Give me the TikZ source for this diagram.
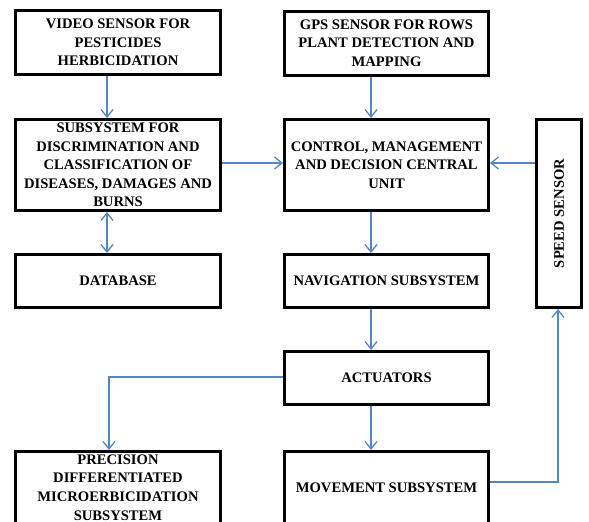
\documentclass[tikz,border=0pt]{standalone}
\usepackage{fontspec}
\setmainfont{Liberation Serif}
\usetikzlibrary{arrows.meta}
\definecolor{flowblue}{RGB}{84,134,194}
\tikzset{
  boxfont/.style={font=\bfseries\fontsize{14.6}{18.6}\selectfont},
  box/.style={draw=black, line width=3pt, fill=white, align=center, inner sep=2pt, boxfont},
  flow/.style={draw=flowblue, line width=1.4pt},
  tip/.tip={Straight Barb[length=7.5pt,width=12pt,line width=1.3pt]},
  arr/.style={flow, -tip},
  biarr/.style={flow, tip-tip}
}
\begin{document}
\begin{tikzpicture}[x=1pt,y=-1pt]
\useasboundingbox (0,0) rectangle (589,522);
\fill[white] (0,0) rectangle (589,522);

% column guides for the vertical connectors
\coordinate (cl) at (107,0);
\coordinate (cr) at (371,0);

% top row
\node[box, minimum width=205pt, minimum height=64pt] (video) at (118,42.5)
  {VIDEO SENSOR FOR\\PESTICIDES\\HERBICIDATION};
\node[box, minimum width=204pt, minimum height=64pt] (gps) at (386.5,43)
  {GPS SENSOR FOR ROWS\\PLANT DETECTION AND\\MAPPING};

% processing row
\node[box, minimum width=205pt, minimum height=91pt] (subsys) at (118,165)
  {SUBSYSTEM FOR\\DISCRIMINATION AND\\CLASSIFICATION OF\\DISEASES, DAMAGES AND\\BURNS};
\node[box, minimum width=204pt, minimum height=91pt] (control) at (386.5,165)
  {CONTROL, MANAGEMENT\\AND DECISION CENTRAL\\UNIT};
\node[box, minimum width=45pt, minimum height=188pt] (speed) at (559,213.5) {};
\node[rotate=90, boxfont] (speedtxt) at (speed.center) {SPEED SENSOR};

% lower rows
\node[box, minimum width=205pt, minimum height=53pt] (database) at (118,281) {DATABASE};
\node[box, minimum width=204pt, minimum height=53pt] (nav) at (386.5,281) {NAVIGATION SUBSYSTEM};
\node[box, minimum width=204pt, minimum height=53pt] (act) at (386.5,378) {ACTUATORS};
\node[box, minimum width=205pt, minimum height=72pt] (prec) at (118,487.5)
  {PRECISION\\DIFFERENTIATED\\MICROERBICIDATION\\SUBSYSTEM};
\node[box, minimum width=204pt, minimum height=72pt] (move) at (386.5,487.5) {MOVEMENT SUBSYSTEM};

% connectors
\draw[arr] (video.south -| cl) -- (subsys.north -| cl);
\draw[biarr] (subsys.south -| cl) -- (database.north -| cl);
\draw[arr] (gps.south -| cr) -- (control.north -| cr);
\draw[arr] (control.south -| cr) -- (nav.north -| cr);
\draw[arr] (nav.south -| cr) -- (act.north -| cr);
\draw[arr] (act.south -| cr) -- (move.north -| cr);
\coordinate (ymid) at (0,163);
\draw[arr] (subsys.east |- ymid) -- (control.west |- ymid);
\draw[arr] (speed.west |- ymid) -- (control.east |- ymid);
\coordinate (yact) at (0,377);
\coordinate (xprec) at (109,0);
\draw[arr] (act.west |- yact) -| (prec.north -| xprec);
\coordinate (ymove) at (0,482);
\coordinate (xspeed) at (558,0);
\draw[arr] (move.east |- ymove) -| (speed.south -| xspeed);
\end{tikzpicture}
\end{document}
